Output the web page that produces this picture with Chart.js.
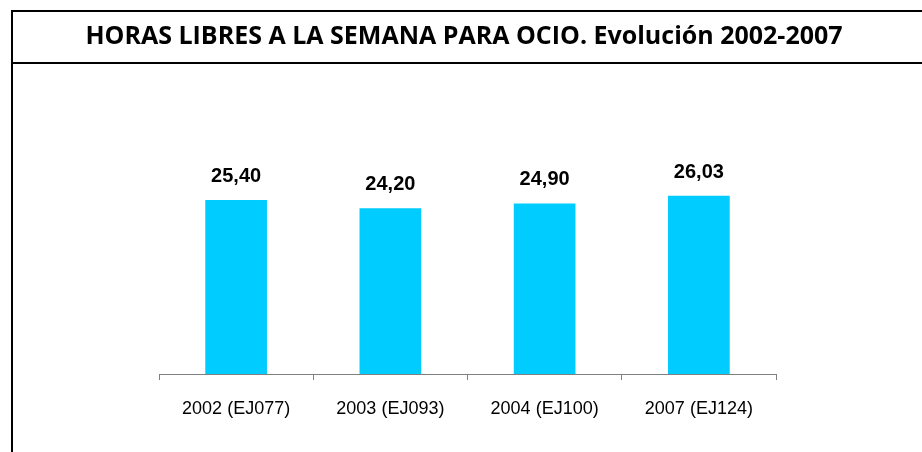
<!DOCTYPE html>
<html>
<head>
<meta charset="utf-8">
<script src="https://cdn.jsdelivr.net/npm/chart.js@4/dist/chart.umd.min.js"></script>
<style>
  html, body { margin: 0; padding: 0; background: #fff; }
  #wrap { width: 922px; height: 452px; position: relative; }
</style>
</head>
<body>
<div id="wrap"><canvas id="c" width="922" height="452"></canvas></div>
<script>
const titleText = 'HORAS LIBRES A LA SEMANA PARA OCIO. Evolución 2002-2007';
const categories = ['2002 (EJ077)', '2003 (EJ093)', '2004 (EJ100)', '2007 (EJ124)'];
const hours = [25.40, 24.20, 24.90, 26.03];

const framePlugin = {
  id: 'frame',
  beforeDraw(chart) {
    const ctx = chart.ctx;
    ctx.save();
    ctx.fillStyle = '#fff';
    ctx.fillRect(0, 0, chart.width, chart.height);
    ctx.strokeStyle = '#000';
    ctx.lineWidth = 2;
    ctx.beginPath();
    ctx.moveTo(12, 10); ctx.lineTo(12, chart.height);
    ctx.moveTo(11, 11); ctx.lineTo(chart.width, 11);
    ctx.moveTo(11, 63); ctx.lineTo(chart.width, 63);
    ctx.stroke();
    ctx.restore();
  }
};

const valueLabels = {
  id: 'valueLabels',
  afterDatasetsDraw(chart) {
    const ctx = chart.ctx;
    ctx.save();
    ctx.font = 'bold 20px "Liberation Sans", Arial, sans-serif';
    ctx.fillStyle = '#000';
    ctx.textAlign = 'center';
    ctx.textBaseline = 'alphabetic';
    chart.data.datasets.forEach((ds, i) => {
      chart.getDatasetMeta(i).data.forEach((bar, j) => {
        const txt = ds.data[j].toFixed(2).replace('.', ',');
        ctx.fillText(txt, bar.x, bar.y - 18);
      });
    });
    ctx.restore();
  }
};

new Chart(document.getElementById('c'), {
  type: 'bar',
  data: {
    labels: categories,
    datasets: [{
      data: hours,
      backgroundColor: '#00CCFF',
      borderWidth: 0,
      barPercentage: 0.4,
      categoryPercentage: 1.0
    }]
  },
  options: {
    responsive: false,
    animation: false,
    devicePixelRatio: 1,
    layout: { padding: { left: 6, right: 0, top: 0, bottom: 0 } },
    plugins: {
      legend: { display: false },
      tooltip: { enabled: false },
      title: {
        display: true,
        text: titleText,
        color: '#000',
        font: { family: '"Open Sans", "DejaVu Sans", sans-serif', size: 25, weight: 'bold', lineHeight: 1.2 },
        padding: { top: 21.7, bottom: 116.8 }
      }
    },
    scales: {
      x: {
        grid: { display: true, drawOnChartArea: false, drawTicks: true, tickLength: 6, color: '#808080', offset: true },
        border: { display: true, color: '#808080', width: 1 },
        ticks: {
          color: '#000',
          font: { family: '"Liberation Sans", Arial, sans-serif', size: 18 },
          padding: 18,
          maxRotation: 0,
          autoSkip: false
        },
        afterFit(s) { s.height = 78; }
      },
      y: {
        display: true,
        min: 0,
        max: 30,
        grid: { display: false },
        border: { display: false },
        ticks: { display: false },
        afterFit(s) { s.width = 153; }
      },
      y2: {
        display: true,
        position: 'right',
        grid: { display: false },
        border: { display: false },
        ticks: { display: false },
        afterFit(s) { s.width = 146; }
      }
    }
  },
  plugins: [framePlugin, valueLabels]
});
</script>
</body>
</html>
